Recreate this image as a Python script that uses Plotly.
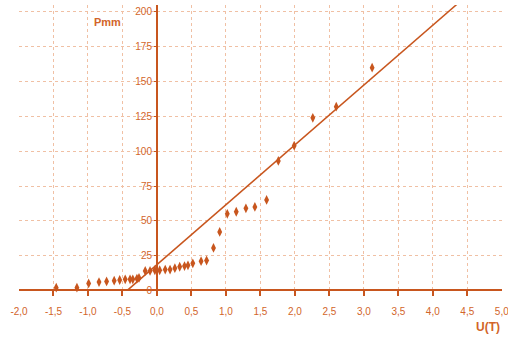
import plotly.graph_objects as go

# data
u_vals = [-1.46, -1.16, -0.99, -0.84, -0.73, -0.62, -0.54, -0.46, -0.39, -0.35, -0.29, -0.26,
          -0.17, -0.10, -0.03, 0.04, 0.12, 0.19, 0.26, 0.33, 0.40, 0.45, 0.52, 0.64, 0.72,
          0.82, 0.91, 1.02, 1.15, 1.29, 1.42, 1.59, 1.76, 1.99, 2.26, 2.60, 3.12]
p_vals = [2, 2, 5, 6, 6.5, 7, 7.5, 8, 8, 8, 8.5, 9,
          14, 14, 14.5, 14.5, 15, 15, 16, 17, 17.5, 18, 19.5, 21, 21.5,
          30.5, 42, 55, 56.5, 59, 60, 65, 93, 104, 124, 132, 160]
fit_u = [-0.43, 4.40]
fit_p = [0.0, 207.7]

x_ticks = [-2.0, -1.5, -1.0, -0.5, 0.0, 0.5, 1.0, 1.5, 2.0, 2.5, 3.0, 3.5, 4.0, 4.5, 5.0]
x_labels = ["-2,0", "-1,5", "-1,0", "-0,5", "0,0", "0,5", "1,0", "1,5", "2,0", "2,5",
            "3,0", "3,5", "4,0", "4,5", "5,0"]
y_ticks = [0, 25, 50, 75, 100, 125, 150, 175, 200]
y_labels = ["0", "25", "50", "75", "100", "125", "150", "175", "200"]

axis_col = "#C8561E"
text_col = "#D2652A"
grid_col = "#F0C0A4"
FONT = "Liberation Sans, Arial, sans-serif"

fig = go.Figure()
fig.add_trace(go.Scatter(x=fit_u, y=fit_p, mode="lines",
                         line=dict(color=axis_col, width=1.5), showlegend=False))
fig.add_trace(go.Scatter(x=u_vals, y=p_vals, mode="markers",
                         marker=dict(symbol="diamond-tall", size=7, color=axis_col),
                         showlegend=False))

fig.update_layout(
    width=508, height=339,
    margin=dict(l=19, r=6, t=5, b=43, autoexpand=False),
    paper_bgcolor="white", plot_bgcolor="white",
    font=dict(family=FONT, color=text_col, size=10),
    xaxis=dict(range=[-2.0, 5.003], tickvals=x_ticks, ticktext=x_labels, automargin=False,
               showgrid=True, gridcolor=grid_col, griddash="dot", gridwidth=1.2,
               zeroline=True, zerolinecolor=axis_col, zerolinewidth=2,
               showline=False, ticks="inside", ticklen=6, tickwidth=1.5, tickcolor=axis_col,
               ticklabelstandoff=8, ticklabeloverflow="allow",
               tickfont=dict(size=10, color=text_col, family=FONT)),
    yaxis=dict(range=[-4, 205], tickvals=y_ticks, ticktext=y_labels, automargin=False,
               showgrid=True, gridcolor=grid_col, griddash="dot", gridwidth=1.2,
               zeroline=True, zerolinecolor=axis_col, zerolinewidth=1.5,
               showline=False, ticks="outside", ticklen=3, tickwidth=1, tickcolor=axis_col,
               anchor="free", position=(157 - 19) / 483,
               tickfont=dict(size=10, color=text_col, family=FONT)),
)

fig.add_annotation(text="<b>Pmm</b>", xref="paper", yref="paper", x=(107 - 19) / 483,
                   y=(296 - 22) / 291, showarrow=False, xanchor="center", yanchor="middle",
                   font=dict(size=11, color=text_col))
fig.add_annotation(text="<b>U(T)</b>", xref="paper", yref="paper", x=(488 - 19) / 483,
                   y=(296 - 327) / 291, showarrow=False, xanchor="center", yanchor="middle",
                   font=dict(size=12, color=text_col))

fig.write_html("out.html", config={"displayModeBar": False},
               post_script="document.body.style.margin='0';document.body.style.overflow='hidden';")
